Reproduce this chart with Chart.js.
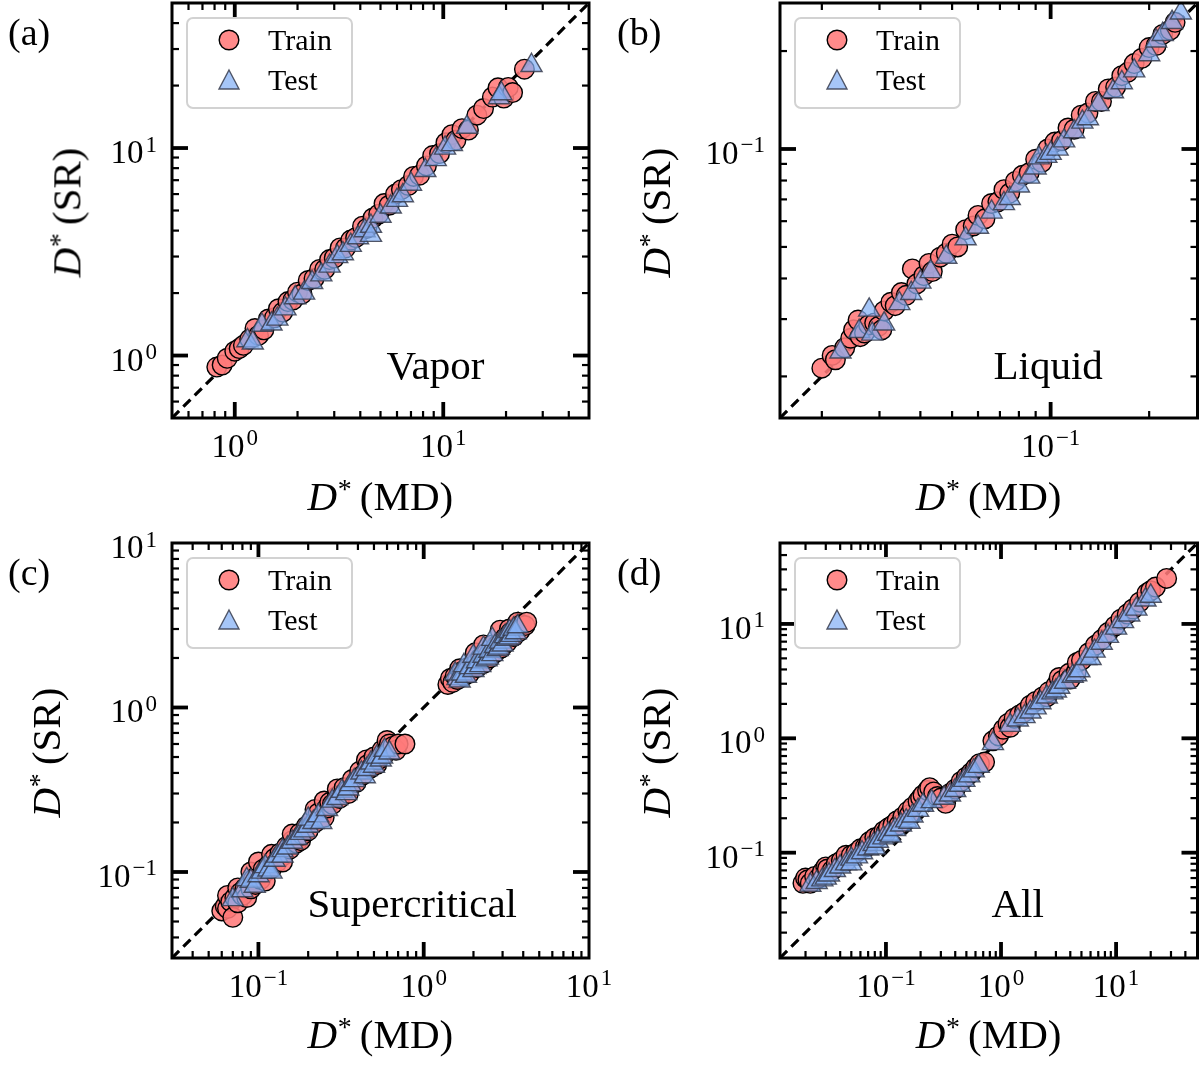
<!DOCTYPE html>
<html>
<head>
<meta charset="utf-8">
<script src="https://cdn.jsdelivr.net/npm/chart.js@4.4.0/dist/chart.umd.min.js"></script>
<style>
html,body{margin:0;padding:0;background:#fff;}
#fig{position:relative;width:1199px;height:1065px;overflow:hidden;background:#fff;
  font-family:"Liberation Serif","DejaVu Serif","Times New Roman",serif;color:#000;}
#fig canvas{position:absolute;}
.t{position:absolute;white-space:nowrap;line-height:1;}
.sup{font-size:0.68em;position:relative;top:-0.42em;margin-left:0.02em;}
.leg{position:absolute;width:163px;height:88px;border:2px solid #d2d2d2;border-radius:7px;
  background:rgba(255,255,255,0.8);box-sizing:content-box;}
.leg svg{position:absolute;overflow:visible;}
.leg span{position:absolute;font-size:30px;line-height:1;white-space:nowrap;}
</style>
</head>
<body>
<div id="fig"></div>
<script>
// ---------------- data ----------------
// (a) Vapor
const vaporTrainMD = [0.82,0.87,0.92,1.0,1.05,1.1,1.18,1.25,1.3,1.38,1.45,1.55,1.62,1.7,1.8,1.9,2.0,2.1,2.25,2.4,2.55,2.7,2.85,3.0,3.2,3.4,3.6,3.8,4.1,4.3,4.6,4.9,5.2,5.5,5.9,6.3,6.8,7.2,7.7,8.3,8.9,9.6,10.3,11.0,11.5,12.3,13.2,14.5,15.6,17.2,18.3,19.5,20.5,21.5,24.5];
const vaporTrainSR = [0.88,0.9,0.97,1.05,1.08,1.12,1.2,1.35,1.25,1.33,1.5,1.52,1.68,1.62,1.82,1.85,2.02,1.98,2.3,2.35,2.6,2.6,2.9,2.95,3.3,3.3,3.6,3.7,4.2,4.1,4.6,4.8,5.4,5.3,6.0,6.3,6.6,7.3,7.4,8.2,9.2,9.4,10.6,11.6,10.9,12.4,12.2,14.4,15.5,17.6,19.5,17.4,19.6,18.5,24.0];
const vaporTestMD = [1.15,1.22,1.35,1.5,1.6,1.75,1.95,2.15,2.35,2.6,2.85,3.1,3.3,3.6,3.9,4.2,4.5,4.5,5.0,5.6,6.0,6.4,7.0,8.2,9.2,10.2,11.0,13.0,18.5,19.0,26.5];
const vaporTestSR = [1.18,1.15,1.4,1.42,1.5,1.68,1.9,2.0,2.25,2.45,2.7,3.0,3.1,3.4,3.7,4.0,4.2,3.8,4.7,5.2,5.6,5.9,6.7,7.8,8.8,10.0,10.4,12.6,17.5,18.3,25.0];

// (b) Liquid
const liquidTrainMD = [0.020,0.0215,0.022,0.0235,0.0245,0.025,0.0258,0.0262,0.027,0.0278,0.029,0.0298,0.0305,0.031,0.0325,0.0335,0.035,0.0362,0.0378,0.039,0.041,0.0425,0.0435,0.046,0.048,0.05,0.052,0.055,0.058,0.06,0.063,0.066,0.069,0.072,0.075,0.078,0.082,0.086,0.09,0.094,0.098,0.103,0.108,0.113,0.118,0.124,0.13,0.137,0.143,0.15,0.158,0.165,0.172,0.18,0.19,0.2,0.21,0.22,0.232,0.24];
const liquidTrainSR = [0.0212,0.0232,0.0225,0.0245,0.0262,0.0278,0.0298,0.0265,0.0272,0.0288,0.0292,0.0285,0.0278,0.0318,0.0338,0.033,0.0362,0.0355,0.0428,0.0385,0.0408,0.0445,0.042,0.0465,0.0478,0.051,0.05,0.0565,0.058,0.0625,0.061,0.068,0.0688,0.075,0.0732,0.0795,0.083,0.0845,0.093,0.091,0.1,0.105,0.106,0.116,0.115,0.127,0.129,0.14,0.14,0.153,0.155,0.168,0.172,0.183,0.19,0.205,0.208,0.225,0.232,0.245];
const liquidTestMD = [0.0228,0.026,0.0279,0.0285,0.031,0.0345,0.0375,0.04,0.043,0.048,0.055,0.06,0.066,0.072,0.075,0.08,0.086,0.09,0.092,0.097,0.1,0.105,0.11,0.118,0.125,0.13,0.14,0.155,0.165,0.18,0.2,0.21,0.22,0.235,0.25];
const liquidTestSR = [0.0238,0.0275,0.032,0.027,0.029,0.0335,0.036,0.039,0.042,0.0465,0.053,0.0575,0.064,0.068,0.0705,0.077,0.082,0.0875,0.094,0.095,0.097,0.1,0.106,0.113,0.121,0.124,0.137,0.15,0.16,0.174,0.195,0.215,0.225,0.245,0.262];

// (c) Supercritical
const superTrainMD = [0.06,0.063,0.065,0.065,0.068,0.07,0.072,0.075,0.075,0.078,0.08,0.083,0.085,0.088,0.09,0.09,0.093,0.096,0.1,0.1,0.103,0.107,0.11,0.11,0.115,0.12,0.12,0.125,0.13,0.135,0.14,0.14,0.148,0.155,0.16,0.16,0.17,0.178,0.18,0.185,0.195,0.2,0.21,0.22,0.22,0.23,0.24,0.25,0.25,0.26,0.27,0.28,0.3,0.3,0.31,0.33,0.35,0.35,0.37,0.39,0.41,0.43,0.45,0.46,0.48,0.5,0.52,0.53,0.56,0.58,0.6,0.62,0.65,0.68,0.7,0.77,
  1.4,1.45,1.5,1.55,1.6,1.65,1.7,1.75,1.8,1.85,1.9,2.0,2.05,2.1,2.2,2.3,2.3,2.4,2.5,2.6,2.6,2.7,2.85,2.9,2.95,3.1,3.2,3.3,3.35,3.5,3.6,3.7,3.8,3.9,4.1,4.2];
const superTrainSR = [0.058,0.062,0.06,0.072,0.066,0.053,0.07,0.065,0.08,0.075,0.072,0.08,0.07,0.085,0.079,0.1,0.09,0.084,0.097,0.115,0.09,0.104,0.1,0.088,0.11,0.105,0.128,0.121,0.115,0.13,0.125,0.115,0.143,0.138,0.155,0.17,0.15,0.172,0.155,0.168,0.19,0.178,0.205,0.2,0.24,0.228,0.215,0.27,0.215,0.245,0.265,0.258,0.29,0.32,0.28,0.325,0.315,0.3,0.365,0.35,0.41,0.39,0.48,0.45,0.43,0.5,0.45,0.48,0.55,0.52,0.63,0.6,0.58,0.55,0.6,0.6,
  1.38,1.5,1.42,1.55,1.48,1.72,1.65,1.55,1.6,1.75,1.62,1.85,2.15,1.75,2.0,1.85,2.4,2.15,2.0,2.3,2.4,2.15,2.45,2.95,2.3,2.65,2.5,3.0,2.85,2.7,3.05,3.3,2.9,3.2,3.15,3.3];
const superTestMD = [0.07,0.08,0.085,0.09,0.095,0.1,0.105,0.11,0.115,0.12,0.125,0.13,0.14,0.14,0.15,0.16,0.17,0.18,0.19,0.2,0.2,0.215,0.23,0.24,0.26,0.28,0.3,0.32,0.34,0.35,0.36,0.38,0.42,0.44,0.45,0.48,0.5,0.52,0.55,0.56,0.58,0.62,
  1.55,1.6,1.65,1.7,1.75,1.8,1.9,2.0,2.0,2.05,2.1,2.2,2.3,2.3,2.4,2.45,2.5,2.6,2.6,2.7,2.8,2.85,2.9,3.0,3.1,3.2,3.3,3.3,3.4,3.5,3.6,3.7];
const superTestSR = [0.068,0.077,0.09,0.088,0.082,0.095,0.1,0.108,0.103,0.1,0.118,0.125,0.135,0.125,0.14,0.152,0.16,0.172,0.178,0.19,0.21,0.2,0.22,0.2,0.24,0.27,0.28,0.31,0.3,0.32,0.34,0.36,0.4,0.38,0.42,0.46,0.44,0.5,0.48,0.5,0.55,0.53,
  1.6,1.5,1.45,1.6,1.8,1.55,1.75,1.68,2.05,1.75,1.9,1.8,2.05,2.3,1.95,2.0,2.2,2.1,2.6,2.35,2.25,2.3,2.5,2.4,2.7,2.6,2.9,2.65,2.75,3.0,2.85,3.1];

// (d) All
const allTrainMD = [0.019,0.02,0.021,0.022,0.024,0.026,0.028,0.03,0.031,0.034,0.037,0.041,0.045,0.045,0.05,0.055,0.06,0.066,0.07,0.072,0.08,0.088,0.096,0.1,0.105,0.115,0.125,0.13,0.14,0.155,0.16,0.17,0.19,0.2,0.21,0.23,0.24,0.26,0.28,0.3,0.33,0.36,0.4,0.45,0.5,0.55,0.6,0.65,0.72,0.85,0.95,1.05,1.15,1.2,1.3,1.45,1.6,1.8,2.0,2.3,2.5,2.6,3.0,3.2,3.4,3.9,4.0,4.5,4.6,5.0,5.8,6.6,7.5,8.5,9.8,11,12.5,14,16,18.5,20,22,27.5];
const allTrainSR = [0.054,0.06,0.058,0.054,0.062,0.06,0.068,0.075,0.072,0.07,0.08,0.085,0.084,0.095,0.095,0.1,0.108,0.112,0.115,0.125,0.135,0.14,0.155,0.15,0.165,0.175,0.19,0.175,0.205,0.23,0.215,0.25,0.28,0.3,0.32,0.35,0.37,0.34,0.31,0.3,0.27,0.33,0.36,0.42,0.46,0.5,0.55,0.6,0.62,0.95,1.05,1.2,1.35,1.25,1.5,1.6,1.7,1.95,2.1,2.3,2.3,2.55,2.9,3.4,3.2,3.7,3.3,3.8,4.6,4.8,5.6,6.5,7.3,8.4,9.6,11,12.2,13.5,15.5,18.5,19.5,21,25];
const allTestMD = [0.022,0.025,0.028,0.03,0.032,0.036,0.04,0.045,0.05,0.05,0.056,0.062,0.07,0.078,0.08,0.085,0.095,0.105,0.11,0.12,0.135,0.15,0.16,0.17,0.19,0.21,0.25,0.32,0.36,0.4,0.44,0.48,0.53,0.58,0.64,0.85,1.2,1.4,1.6,1.8,2.0,2.2,2.5,2.8,3.0,3.2,3.6,4.2,4.5,4.8,5.5,6.0,6.5,7.5,8.5,10,11.5,13,15,18,20];
const allTestSR = [0.052,0.055,0.058,0.06,0.064,0.07,0.075,0.08,0.088,0.08,0.092,0.1,0.108,0.118,0.11,0.126,0.135,0.145,0.14,0.16,0.175,0.19,0.185,0.21,0.235,0.26,0.28,0.3,0.32,0.35,0.39,0.43,0.47,0.52,0.57,0.9,1.3,1.45,1.55,1.7,1.85,2.05,2.3,2.5,2.6,2.8,3.1,3.5,3.6,3.9,5.0,5.0,5.8,6.8,7.8,9.2,10.5,12,13.5,16.2,17.5];

// axis limits (same for x and y in each panel)
const vaporLim = [0.5, 50];
const liquidLim = [0.0149, 0.281];
const superLim = [0.03, 10];
const allLim = [0.012, 51];

// tick values
const vaporMajorTicks = [1, 10];
const vaporMinorTicks = [0.6,0.7,0.8,0.9,2,3,4,5,6,7,8,9,20,30,40];
const liquidMajorTicks = [0.1];
const liquidMinorTicks = [0.02,0.03,0.04,0.05,0.06,0.07,0.08,0.09,0.2];
const superMajorTicks = [0.1, 1, 10];
const superMinorTicks = [0.04,0.05,0.06,0.07,0.08,0.09,0.2,0.3,0.4,0.5,0.6,0.7,0.8,0.9,2,3,4,5,6,7,8,9];
const allMajorTicks = [0.1, 1, 10];
const allMinorTicks = [0.02,0.03,0.04,0.05,0.06,0.07,0.08,0.09,0.2,0.3,0.4,0.5,0.6,0.7,0.8,0.9,2,3,4,5,6,7,8,9,20,30,40,50];

const seriesNames = ['Train', 'Test'];
const panelLetters = ['(a)', '(b)', '(c)', '(d)'];
const regionNames = ['Vapor', 'Liquid', 'Supercritical', 'All'];
const xTitleTag = 'MD';
const yTitleTag = 'SR';

// ---------------- layout / style ----------------
const FONT = '"Liberation Serif","DejaVu Serif","Times New Roman",serif';
const TICK_FS = 33, EXP_FS = 23, EXP_RAISE = 11.5;
const TRAIN_FILL = 'rgba(255,122,122,0.88)';
const TEST_FILL = 'rgba(132,176,245,0.72)';
const TEST_EDGE = 'rgba(55,60,78,0.85)';

const panels = [
  {name:regionNames[0], letter:panelLetters[0], lim:vaporLim, maj:vaporMajorTicks, min:vaporMinorTicks,
   tr:[vaporTrainMD,vaporTrainSR], te:[vaporTestMD,vaporTestSR],
   cv:{l:0,t:0,w:640,h:530}, fr:{l:172,t:3,r:589,b:418},
   letterPos:{l:8,base:45}, region:{cx:435.5,base:379}, ytx:80.5, xtb:510},
  {name:regionNames[1], letter:panelLetters[1], lim:liquidLim, maj:liquidMajorTicks, min:liquidMinorTicks,
   tr:[liquidTrainMD,liquidTrainSR], te:[liquidTestMD,liquidTestSR],
   cv:{l:600,t:0,w:599,h:530}, fr:{l:780,t:3,r:1197.5,b:418},
   letterPos:{l:617,base:45}, region:{cx:1048,base:379}, ytx:671, xtb:510},
  {name:regionNames[2], letter:panelLetters[2], lim:superLim, maj:superMajorTicks, min:superMinorTicks,
   tr:[superTrainMD,superTrainSR], te:[superTestMD,superTestSR],
   cv:{l:0,t:520,w:640,h:545}, fr:{l:172,t:543,r:589,b:958},
   letterPos:{l:8,base:585}, region:{cx:412,base:917}, ytx:61, xtb:1048},
  {name:regionNames[3], letter:panelLetters[3], lim:allLim, maj:allMajorTicks, min:allMinorTicks,
   tr:[allTrainMD,allTrainSR], te:[allTestMD,allTestSR],
   cv:{l:600,t:520,w:599,h:545}, fr:{l:780,t:543,r:1197.5,b:958},
   letterPos:{l:617,base:585}, region:{cx:1017.5,base:917}, ytx:671, xtb:1048}
];

function isIn(list, v) { return list.some(m => Math.abs(m - v) / m < 1e-6); }
function pts(xs, ys) { return xs.map((x, i) => ({x: x, y: ys[i]})); }

// "10" with a raised exponent, as in the reference tick labels
function drawPow(ctx, v, x, base, align) {
  const e = Math.round(Math.log10(v));
  const es = e < 0 ? '\u2212' + (-e) : String(e);
  ctx.font = TICK_FS + 'px ' + FONT;
  const w1 = ctx.measureText('10').width;
  ctx.font = EXP_FS + 'px ' + FONT;
  const w2 = ctx.measureText(es).width;
  const gap = 2;
  const total = w1 + gap + w2;
  const x0 = align === 'center' ? x - total / 2 : x - total;
  ctx.textAlign = 'left';
  ctx.textBaseline = 'alphabetic';
  ctx.fillStyle = '#000';
  ctx.font = TICK_FS + 'px ' + FONT;
  ctx.fillText('10', x0, base);
  ctx.font = EXP_FS + 'px ' + FONT;
  ctx.fillText(es, x0 + w1 + gap, base - EXP_RAISE);
}

// frame, inward ticks on all four sides, and tick labels - placed through the chart's scales
const frameTicks = {
  id: 'frameTicks',
  afterDraw(chart, args, opts) {
    const {ctx, chartArea: a} = chart;
    const xs = chart.scales.x, ys = chart.scales.y;
    ctx.save();
    ctx.strokeStyle = '#000';
    ctx.lineCap = 'butt';
    const draw = (x1, y1, x2, y2, w) => { ctx.lineWidth = w; ctx.beginPath(); ctx.moveTo(x1, y1); ctx.lineTo(x2, y2); ctx.stroke(); };
    xs.ticks.forEach(t => {
      const p = xs.getPixelForValue(t.value);
      const maj = isIn(opts.maj, t.value);
      if (maj) drawPow(ctx, t.value, p, a.bottom + 38.5, 'center');
      if (p <= a.left + 1 || p >= a.right - 1) return;
      const len = maj ? 16 : 7, w = maj ? 3.8 : 2.2;
      draw(p, a.bottom, p, a.bottom - len, w);
      draw(p, a.top, p, a.top + len, w);
    });
    ys.ticks.forEach(t => {
      const p = ys.getPixelForValue(t.value);
      const maj = isIn(opts.maj, t.value);
      if (maj) drawPow(ctx, t.value, a.left - 15, p + 15, 'right');
      if (p <= a.top + 1 || p >= a.bottom - 1) return;
      const len = maj ? 16 : 7, w = maj ? 3.8 : 2.2;
      draw(a.left, p, a.left + len, p, w);
      draw(a.right, p, a.right - len, p, w);
    });
    ctx.lineWidth = 3;
    ctx.strokeRect(a.left, a.top, a.right - a.left, a.bottom - a.top);
    ctx.restore();
  }
};

const fig = document.getElementById('fig');

function axisCfg(p, pos) {
  const tickVals = p.maj.concat(p.min).sort((a, b) => a - b);
  const horiz = pos === 'bottom';
  return {
    type: 'logarithmic', position: pos, min: p.lim[0], max: p.lim[1],
    grid: {display: false, drawTicks: false}, border: {display: false},
    afterBuildTicks: s => { s.ticks = tickVals.map(v => ({value: v})); },
    afterFit: s => {
      if (horiz) s.height = p.cv.h - (p.fr.b - p.cv.t); else s.width = p.fr.l - p.cv.l;
      s.paddingLeft = 0; s.paddingRight = 0; s.paddingTop = 0; s.paddingBottom = 0;
    },
    ticks: {display: false, autoSkip: false}
  };
}

panels.forEach(p => {
  const c = document.createElement('canvas');
  c.width = p.cv.w; c.height = p.cv.h;
  c.style.left = p.cv.l + 'px'; c.style.top = p.cv.t + 'px';
  c.style.width = p.cv.w + 'px'; c.style.height = p.cv.h + 'px';
  fig.appendChild(c);
  new Chart(c.getContext('2d'), {
    type: 'scatter',
    data: {
      datasets: [
        {label: seriesNames[0], data: pts(p.tr[0], p.tr[1]), pointStyle: 'circle',
         pointRadius: 9.8, pointHoverRadius: 9.8, backgroundColor: TRAIN_FILL,
         borderColor: '#000', borderWidth: 1.4, order: 2},
        {label: seriesNames[1], data: pts(p.te[0], p.te[1]), pointStyle: 'triangle',
         pointRadius: 12.2, pointHoverRadius: 12.2, backgroundColor: TEST_FILL,
         borderColor: TEST_EDGE, borderWidth: 1.4, order: 1},
        {type: 'line', label: 'y = x', data: [{x: p.lim[0], y: p.lim[0]}, {x: p.lim[1], y: p.lim[1]}],
         borderColor: '#000', borderWidth: 3.2, borderDash: [10, 6], pointRadius: 0,
         fill: false, tension: 0, order: 3}
      ]
    },
    options: {
      responsive: false, animation: false, events: [],
      layout: {autoPadding: false, padding: {left: 0, top: p.fr.t - p.cv.t, right: p.cv.l + p.cv.w - p.fr.r, bottom: 0}},
      plugins: {legend: {display: false}, tooltip: {enabled: false}, frameTicks: {maj: p.maj}},
      scales: {x: axisCfg(p, 'bottom'), y: axisCfg(p, 'left')}
    },
    plugins: [frameTicks]
  });
});

// ---------------- text overlays (real DOM text) ----------------
const ASC = 0.8375; // baseline offset within a line-height:1 box (Liberation Serif)
function addText(html, fs, opt) {
  const d = document.createElement('div');
  d.className = 't';
  d.style.fontSize = fs + 'px';
  d.innerHTML = html;
  fig.appendChild(d);
  const w = d.offsetWidth;
  if (opt.rot) {
    const cx = opt.bx - (ASC - 0.5) * fs;
    d.style.left = (cx - w / 2) + 'px';
    d.style.top = (opt.cy - fs / 2) + 'px';
    d.style.transform = 'rotate(-90deg)';
    d.style.transformOrigin = '50% 50%';
  } else {
    const left = opt.cx !== undefined ? opt.cx - w / 2 : opt.l;
    d.style.left = left + 'px';
    d.style.top = (opt.base - ASC * fs) + 'px';
  }
  return d;
}
function dStar(tag) { return '<i>D</i><span class="sup">*</span>\u2009(' + tag + ')'; }

panels.forEach(p => {
  const f = p.fr;
  addText(p.letter, 38, {l: p.letterPos.l, base: p.letterPos.base});
  addText(p.name, 41, {cx: p.region.cx, base: p.region.base});
  addText(dStar(xTitleTag), 41, {cx: (f.l + f.r) / 2, base: p.xtb});
  addText(dStar(yTitleTag), 41, {rot: true, bx: p.ytx, cy: (f.t + f.b) / 2 + 1.5});

  const lg = document.createElement('div');
  lg.className = 'leg';
  lg.style.left = (f.l + 14) + 'px';
  lg.style.top = (f.t + 13.5) + 'px';
  lg.innerHTML =
    '<svg width="24" height="24" style="left:28.5px;top:9.5px"><circle cx="12" cy="12" r="9.8" fill="' + TRAIN_FILL + '" stroke="#000" stroke-width="1.4"/></svg>' +
    '<svg width="24" height="24" style="left:28.5px;top:49px"><polygon points="12,2 22,21 2,21" fill="' + TEST_FILL + '" stroke="' + TEST_EDGE + '" stroke-width="1.4"/></svg>' +
    '<span style="left:80px;top:' + (31.5 - ASC * 30) + 'px">' + seriesNames[0] + '</span>' +
    '<span style="left:80px;top:' + (71.5 - ASC * 30) + 'px">' + seriesNames[1] + '</span>';
  fig.appendChild(lg);
});
</script>
</body>
</html>
